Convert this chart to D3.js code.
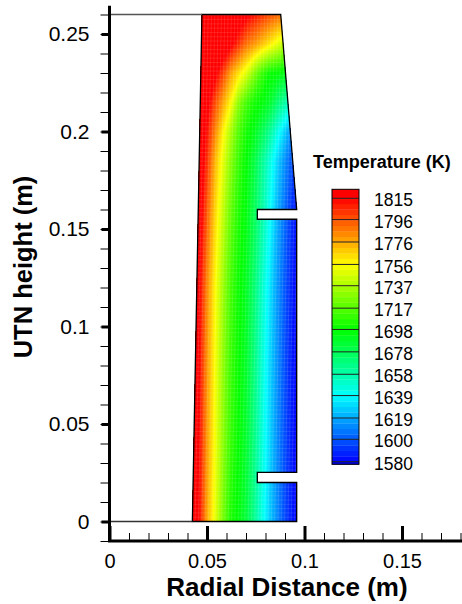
<!DOCTYPE html>
<html>
<head>
<meta charset="utf-8">
<script src="https://cdn.jsdelivr.net/npm/d3@7"></script>
<style>
  body { margin: 0; background: #fff; }
  svg { display: block; font-family: "Liberation Sans", Arial, sans-serif; }
</style>
</head>
<body>
<div id="container"></div>
<script>
var gridX = [0.042, 0.046, 0.050, 0.054, 0.058, 0.062, 0.066, 0.070, 0.074, 0.078, 0.082, 0.086, 0.090, 0.094, 0.098];
var gridY = [0, 0.04, 0.08, 0.12, 0.16, 0.185, 0.20, 0.215, 0.23, 0.245, 0.26];

// temperature (K), one row per gridY, bottom to top
var tempRows = [
  [1832, 1812, 1776, 1752, 1726, 1705, 1696, 1684, 1666, 1646, 1628, 1612, 1597, 1585, 1578],
  [1836, 1813, 1779, 1755, 1731, 1711, 1699, 1687, 1669, 1649, 1630, 1613, 1598, 1585, 1578],
  [1837, 1814, 1780, 1756, 1732, 1712, 1700, 1688, 1670, 1650, 1631, 1614, 1598, 1585, 1578],
  [1839, 1816, 1783, 1758, 1735, 1714, 1701, 1690, 1673, 1653, 1634, 1616, 1600, 1586, 1579],
  [1846, 1825, 1794, 1767, 1744, 1722, 1706, 1695, 1680, 1662, 1642, 1622, 1605, 1590, 1580],
  [1852, 1831, 1803, 1774, 1752, 1730, 1711, 1698, 1684, 1666, 1648, 1630, 1613, 1598, 1588],
  [1858, 1837, 1811, 1785, 1760, 1738, 1717, 1703, 1693, 1680, 1665, 1645, 1628, 1610, 1598],
  [1865, 1846, 1822, 1798, 1778, 1758, 1731, 1714, 1703, 1697, 1689, 1673, 1660, 1648, 1638],
  [1870, 1855, 1836, 1820, 1801, 1779, 1764, 1750, 1730, 1712, 1700, 1697, 1693, 1688, 1684],
  [1870, 1862, 1852, 1842, 1832, 1820, 1805, 1790, 1782, 1772, 1762, 1752, 1742, 1735, 1728],
  [1870, 1866, 1860, 1852, 1843, 1835, 1828, 1820, 1812, 1805, 1798, 1792, 1788, 1785, 1782]
];

// outline of the solid (x, y in m)
var domainOutline = [
  [0.0425, 0], [0.0474, 0.26], [0.0878, 0.26], [0.096, 0.160],
  [0.0758, 0.160], [0.0758, 0.155], [0.096, 0.155], [0.096, 0.0252],
  [0.0758, 0.0252], [0.0758, 0.020], [0.096, 0.020], [0.096, 0]
];

var legendLevels = [1580, 1600, 1619, 1639, 1658, 1678, 1698, 1717, 1737, 1756, 1776, 1796, 1815];
var xMajorTicks = [0, 0.05, 0.1, 0.15];
var yMajorTicks = [0, 0.05, 0.1, 0.15, 0.2, 0.25];

var width = 462, height = 604;

var svg = d3.select("#container")
  .append("svg")
    .attr("width", width)
    .attr("height", height);

// equal aspect: 0.05 m -> 97.5 px
var x = d3.scaleLinear().domain([0, 0.05]).range([109.5, 207]);
var y = d3.scaleLinear().domain([0, 0.05]).range([521.5, 424]);

// rainbow colour map, red at the top, blue at the bottom
var hue = d3.scaleLinear().domain([1580, 1815]).range([240, 0]).clamp(true);
var darken = d3.scaleLinear().domain([1570, 1580]).range([0.3, 0.5]).clamp(true);
function colour(t) {
  return d3.hsl(hue(t), 1, darken(t)).formatHex();
}

// clip to the solid
var outlinePts = domainOutline.map(function(p) { return [x(p[0]), y(p[1])]; });
svg.append("clipPath").attr("id", "solid")
  .append("path")
    .attr("d", d3.line()(outlinePts) + "Z");

// filled contours through d3.contours
var nx = gridX.length, ny = gridY.length;
var values = [];
tempRows.forEach(function(row) { row.forEach(function(v) { values.push(v); }); });

var colIdx = d3.scaleLinear().domain(d3.range(nx)).range(gridX);
var rowIdx = d3.scaleLinear().domain(d3.range(ny)).range(gridY);

var thresholds = d3.range(1560, 1882, 1.5);
var contours = d3.contours().size([nx, ny]).thresholds(thresholds)(values);

var toScreen = d3.geoTransform({
  point: function(gx, gy) {
    this.stream.point(x(colIdx(gx - 0.5)), y(rowIdx(gy - 0.5)));
  }
});
var path = d3.geoPath().projection(toScreen);

var field = svg.append("g").attr("clip-path", "url(#solid)");

field.selectAll("path")
  .data(contours)
  .enter()
  .append("path")
    .attr("d", path)
    .attr("fill", function(d) { return colour(d.value); })
    .attr("stroke", function(d) { return colour(d.value); })
    .attr("stroke-width", 0.4);

// faint mesh lines
var meshX = d3.range(0, 34).map(function(i) { return 0.0405 + i * 0.0017; });
var meshY = d3.range(0, 120).map(function(i) { return i * 0.0022; });
field.selectAll(".meshx")
  .data(meshX)
  .enter()
  .append("line")
    .attr("x1", function(d) { return x(d); })
    .attr("x2", function(d) { return x(d + 0.005); })
    .attr("y1", y(0))
    .attr("y2", y(0.26))
    .attr("stroke", "#fff")
    .attr("stroke-opacity", 0.16)
    .attr("stroke-width", 0.7);
field.selectAll(".meshy")
  .data(meshY)
  .enter()
  .append("line")
    .attr("x1", x(0.04))
    .attr("x2", x(0.1))
    .attr("y1", function(d) { return y(d); })
    .attr("y2", function(d) { return y(d); })
    .attr("stroke", "#fff")
    .attr("stroke-opacity", 0.16)
    .attr("stroke-width", 0.7);

// outline and the two lines out to the axis
svg.append("path")
  .attr("d", d3.line()(outlinePts) + "Z")
  .attr("fill", "none")
  .attr("stroke", "#000")
  .attr("stroke-width", 1.3);

svg.append("line")
  .attr("x1", x(0)).attr("x2", x(0.0474))
  .attr("y1", y(0.26)).attr("y2", y(0.26))
  .attr("stroke", "#555").attr("stroke-width", 1.3);
svg.append("line")
  .attr("x1", x(0)).attr("x2", x(0.0425))
  .attr("y1", y(0)).attr("y2", y(0))
  .attr("stroke", "#333").attr("stroke-width", 1.3);

// axes
var xMinor = d3.range(0, 19).map(function(i) { return i / 100; });
var yMinor = d3.range(-1, 27).map(function(i) { return i / 100; });
var axisY0 = y(-0.01);

function styleAxis(g, w) {
  g.select(".domain").remove();
  g.selectAll(".tick line").attr("stroke", "#000").attr("stroke-width", w);
}

svg.append("g")
  .attr("transform", "translate(0," + axisY0 + ")")
  .call(d3.axisTop(x).tickValues(xMinor).tickSize(8).tickFormat(""))
  .call(styleAxis, 1);
svg.append("g")
  .attr("transform", "translate(0," + axisY0 + ")")
  .call(d3.axisTop(x).tickValues(xMajorTicks).tickSize(15).tickFormat(""))
  .call(styleAxis, 3);
svg.append("g")
  .attr("transform", "translate(0," + axisY0 + ")")
  .call(d3.axisBottom(x).tickValues(xMajorTicks).tickSize(0).tickPadding(13).tickFormat(d3.format("~g")))
  .call(styleAxis, 0)
  .selectAll("text")
    .style("font-size", "20px")
    .attr("fill", "#000");

svg.append("g")
  .attr("transform", "translate(" + x(0) + ",0)")
  .call(d3.axisLeft(y).tickValues(yMinor).tickSize(9).tickFormat(""))
  .call(styleAxis, 1);
svg.append("g")
  .attr("transform", "translate(" + x(0) + ",0)")
  .call(d3.axisLeft(y).tickValues(yMajorTicks).tickSize(8).tickFormat(""))
  .call(styleAxis, 3);
svg.append("g")
  .attr("transform", "translate(" + x(0) + ",0)")
  .call(d3.axisLeft(y).tickValues(yMajorTicks).tickSize(0).tickPadding(20).tickFormat(d3.format("~g")))
  .call(styleAxis, 0)
  .selectAll("text")
    .style("font-size", "21px")
    .attr("fill", "#000");

// axis lines
svg.append("line")
  .attr("x1", x(0) - 1.5).attr("x2", width)
  .attr("y1", axisY0).attr("y2", axisY0)
  .attr("stroke", "#000").attr("stroke-width", 3);
svg.append("line")
  .attr("x1", x(0)).attr("x2", x(0))
  .attr("y1", axisY0).attr("y2", y(0.2645))
  .attr("stroke", "#000").attr("stroke-width", 3);

// axis titles
svg.append("text")
  .attr("x", 287).attr("y", 596)
  .attr("text-anchor", "middle")
  .style("font-size", "26px").style("font-weight", "bold")
  .text("Radial Distance (m)");

svg.append("text")
  .attr("transform", "translate(32,267)rotate(-90)")
  .attr("text-anchor", "middle")
  .style("font-size", "25.5px").style("font-weight", "bold")
  .text("UTN height (m)");

// legend
var ly = d3.scaleLinear().domain([1580, 1815]).range([461.7, 198.3]);
var legendX = 332, legendW = 27;
var tMin = ly.invert(464.3), tMax = ly.invert(189.3);
var step = (1815 - 1580) / 48;
var subLevels = d3.range(0, 52).map(function(i) { return 1580 - step + i * step; })
  .filter(function(t) { return t < tMax; });

var legend = svg.append("g");
legend.selectAll(".band")
  .data(subLevels)
  .enter()
  .append("rect")
    .attr("x", legendX)
    .attr("width", legendW)
    .attr("y", function(d) { return ly(Math.min(d + step, tMax)); })
    .attr("height", function(d) { return ly(Math.max(d, tMin)) - ly(Math.min(d + step, tMax)) + 0.3; })
    .attr("fill", function(d) { return colour(d + step / 2); });

legend.selectAll(".lvl")
  .data(legendLevels)
  .enter()
  .append("line")
    .attr("x1", legendX).attr("x2", legendX + legendW)
    .attr("y1", function(d) { return ly(d); })
    .attr("y2", function(d) { return ly(d); })
    .attr("stroke", "#222").attr("stroke-width", 1);

legend.append("rect")
  .attr("x", legendX).attr("y", ly(tMax))
  .attr("width", legendW).attr("height", ly(tMin) - ly(tMax))
  .attr("fill", "none").attr("stroke", "#000").attr("stroke-width", 1);

legend.selectAll(".lab")
  .data(legendLevels)
  .enter()
  .append("text")
    .attr("x", 374)
    .attr("y", function(d) { return ly(d) + 2; })
    .attr("dy", "0.35em")
    .style("font-size", "17.5px")
    .text(function(d) { return d; });

legend.append("text")
  .attr("x", 313).attr("y", 168)
  .style("font-size", "18px").style("font-weight", "bold")
  .text("Temperature (K)");
</script>
</body>
</html>
